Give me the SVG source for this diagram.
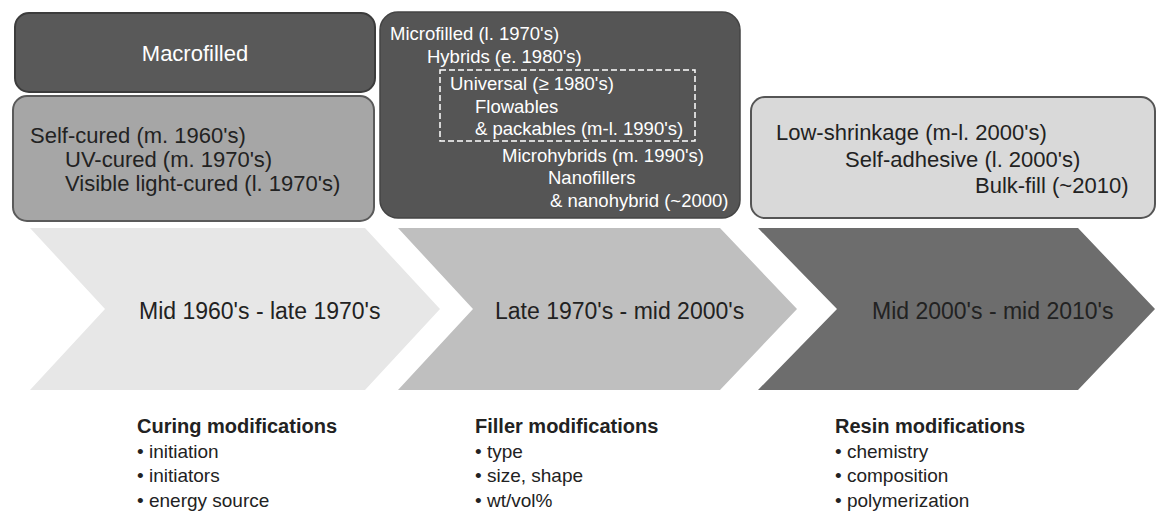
<svg xmlns="http://www.w3.org/2000/svg" width="1157" height="522" viewBox="0 0 1157 522">
<style>
text{font-family:"Liberation Sans",Arial,sans-serif;}
.big{font-size:22px;fill:#222;}
.mid{font-size:18.5px;fill:#fff;}
.wh{font-size:22px;fill:#fff;}
.hd{font-size:20px;font-weight:bold;fill:#222;}
.bl{font-size:19px;fill:#222;}
.lbl{font-size:23px;fill:#222;}
</style>
<rect width="1157" height="522" fill="#fff"/>
<g id="connectors"/>
<g id="chevron1">
<polygon points="30,228 365,228 440,309 365,390 30,390 105,309" fill="#e7e7e7"/>
<text class="lbl" x="139" y="319">Mid 1960's - late 1970's</text>
</g>
<g id="chevron2">
<polygon points="398,228 720,228 797,309 720,390 398,390 473,309" fill="#bfbfbf"/>
<text class="lbl" x="495" y="319">Late 1970's - mid 2000's</text>
</g>
<g id="chevron3">
<polygon points="758,228 1078,228 1155,309 1078,390 758,390 837,309" fill="#6d6d6d"/>
<text class="lbl" x="872" y="319" fill="#333">Mid 2000's - mid 2010's</text>
</g>
<g id="macrofilled">
<rect x="15" y="13" width="360" height="79" rx="14" fill="#595959" stroke="#3c3c3c" stroke-width="2"/>
<text class="wh" x="195" y="61" text-anchor="middle">Macrofilled</text>
</g>
<g id="curing-box">
<rect x="13" y="96" width="361" height="125" rx="14" fill="#a6a6a6" stroke="#5a5a5a" stroke-width="2"/>
<text class="big" x="30" y="143">Self-cured (m. 1960's)</text>
<text class="big" x="65" y="167">UV-cured (m. 1970's)</text>
<text class="big" x="65" y="191">Visible light-cured (l. 1970's)</text>
</g>
<g id="filler-box">
<rect x="380" y="12" width="360" height="206" rx="18" fill="#555555" stroke="#444" stroke-width="1.5"/>
<rect x="440" y="70" width="255" height="71" fill="none" stroke="#fff" stroke-width="1.5" stroke-dasharray="6 3"/>
<text class="mid" x="390" y="40">Microfilled (l. 1970's)</text>
<text class="mid" x="427" y="63">Hybrids (e. 1980's)</text>
<text class="mid" x="450" y="90">Universal (≥ 1980's)</text>
<text class="mid" x="475" y="113">Flowables</text>
<text class="mid" x="475" y="135">&amp; packables (m-l. 1990's)</text>
<text class="mid" x="502" y="162">Microhybrids (m. 1990's)</text>
<text class="mid" x="548" y="184">Nanofillers</text>
<text class="mid" x="550" y="207">&amp; nanohybrid (~2000)</text>
</g>
<g id="resin-box">
<rect x="751" y="97" width="404" height="121" rx="14" fill="#d9d9d9" stroke="#555" stroke-width="2"/>
<text class="big" x="776" y="140">Low-shrinkage (m-l. 2000's)</text>
<text class="big" x="845" y="167">Self-adhesive (l. 2000's)</text>
<text class="big" x="975" y="193">Bulk-fill (~2010)</text>
</g>
<g id="curing-list">
<text class="hd" x="137" y="433">Curing modifications</text>
<text class="bl" x="137" y="458">• initiation</text>
<text class="bl" x="137" y="482">• initiators</text>
<text class="bl" x="137" y="507">• energy source</text>
</g>
<g id="filler-list">
<text class="hd" x="475" y="433">Filler modifications</text>
<text class="bl" x="475" y="458">• type</text>
<text class="bl" x="475" y="482">• size, shape</text>
<text class="bl" x="475" y="507">• wt/vol%</text>
</g>
<g id="resin-list">
<text class="hd" x="835" y="433">Resin modifications</text>
<text class="bl" x="835" y="458">• chemistry</text>
<text class="bl" x="835" y="482">• composition</text>
<text class="bl" x="835" y="507">• polymerization</text>
</g>
</svg>
